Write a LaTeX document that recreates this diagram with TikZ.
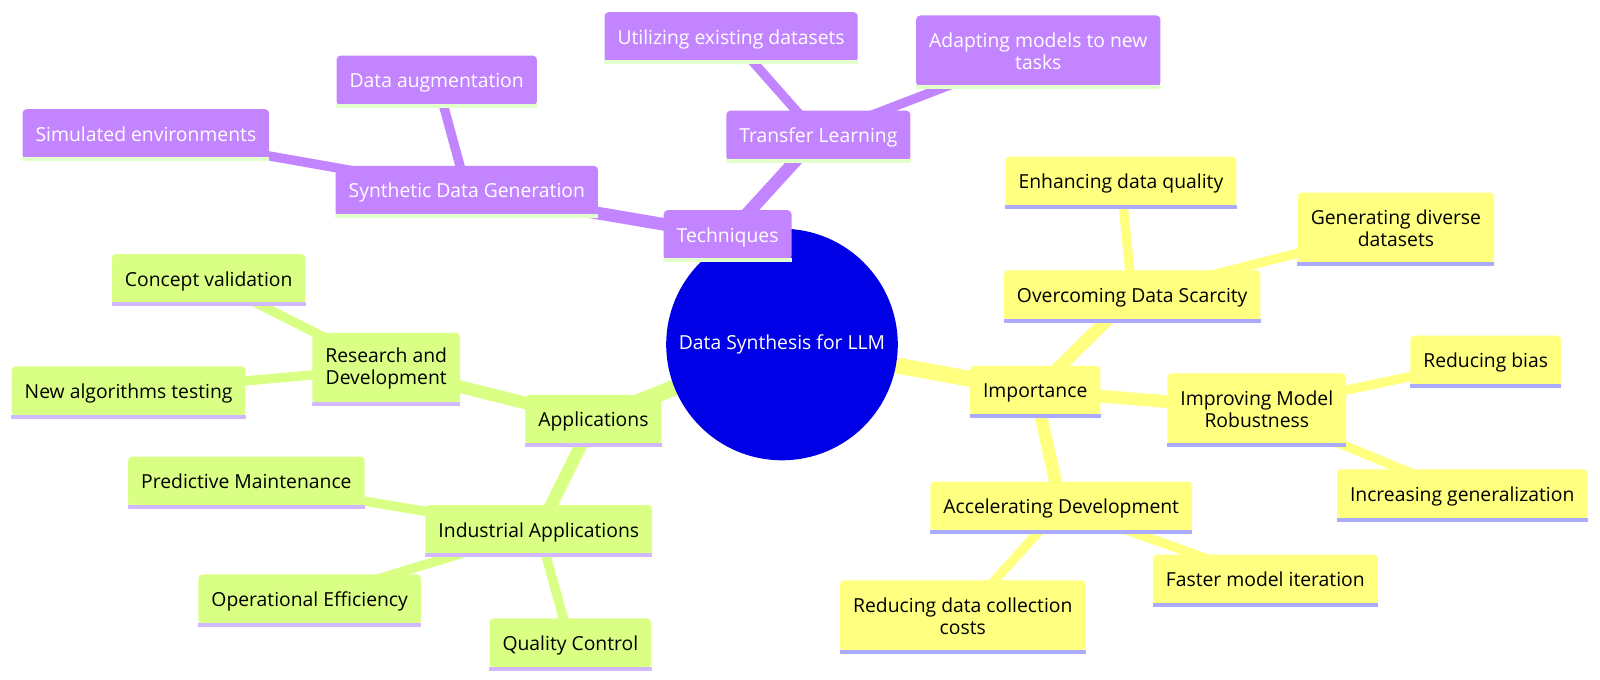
\documentclass[tikz,border=0pt]{standalone}
\usepackage{fontspec}
\setmainfont{Open Sans}
\usetikzlibrary{backgrounds}
\definecolor{rootblue}{HTML}{0000E6}
\definecolor{lilac}{HTML}{C385FF}
\definecolor{lime}{HTML}{D9FF85}
\definecolor{lemon}{HTML}{FFFF80}
\definecolor{lilacline}{HTML}{E2FFCC}
\definecolor{limeline}{HTML}{D2B8FF}
\definecolor{lemonline}{HTML}{AAAAFF}

\begin{document}
\begin{tikzpicture}[x=0.75pt,y=-0.75pt,
  every node/.style={font=\fontsize{14.5}{16.5}\selectfont,align=center},
  mm/.style={rounded corners=3pt,inner xsep=9.75pt,inner ysep=0pt,minimum height=37.5pt,text height=13pt,text depth=2.6pt},
  two/.style={minimum height=53.25pt,text height=,text depth=},
  techbox/.style={mm,fill=lilac,text=white,append after command={(\tikzlastnode.south west) edge[draw=lilacline,line width=3pt] (\tikzlastnode.south east)}},
  appbox/.style={mm,fill=lime,text=black,append after command={(\tikzlastnode.south west) edge[draw=limeline,line width=3pt] (\tikzlastnode.south east)}},
  impbox/.style={mm,fill=lemon,text=black,append after command={(\tikzlastnode.south west) edge[draw=lemonline,line width=3pt] (\tikzlastnode.south east)}},
  lvA/.style={line width=12pt},
  lvB/.style={line width=9.5pt},
  lvC/.style={line width=7pt}]
\useasboundingbox (0,0) rectangle (1600,680);

% centre
\node[circle,fill=rootblue,text=white,minimum size=173.7pt,inner sep=0pt] (root) at (782,344.5) {Data Synthesis for LLM};

% techniques
\node[techbox] (tech) at (727.6,235.2) {Techniques};
\node[techbox] (trans) at (818.4,135.7) {Transfer Learning};
\node[techbox] (util) at (731.1,37.2) {Utilizing existing datasets};
\node[techbox,two] (adapt) at (1038.3,51) {Adapting models to new\\tasks};
\node[techbox] (synth) at (466.8,190.8) {Synthetic Data Generation};
\node[techbox] (augm) at (436.7,80.6) {Data augmentation};
\node[techbox] (simu) at (145.9,134.2) {Simulated environments};

% applications
\node[appbox] (appl) at (593.4,419.9) {Applications};
\node[appbox,two] (rnd) at (386.2,368.4) {Research and\\Development};
\node[appbox] (conc) at (208.7,279.1) {Concept validation};
\node[appbox] (algo) at (128.6,391.3) {New algorithms testing};
\node[appbox] (indu) at (538.8,530.1) {Industrial Applications};
\node[appbox] (pred) at (246.4,481.6) {Predictive Maintenance};
\node[appbox] (oper) at (309.7,599.5) {Operational Efficiency};
\node[appbox] (qual) at (570.4,643.4) {Quality Control};

% importance
\node[impbox] (imp) at (1035.2,390.8) {Importance};
\node[impbox] (scar) at (1132.2,295.4) {Overcoming Data Scarcity};
\node[impbox] (enha) at (1120.9,181.6) {Enhancing data quality};
\node[impbox,two] (gene) at (1395.9,228.1) {Generating diverse\\datasets};
\node[impbox,two] (robu) at (1256.8,409) {Improving Model\\Robustness};
\node[impbox] (bias) at (1485.7,360.7) {Reducing bias};
\node[impbox] (incr) at (1462.2,494.4) {Increasing generalization};
\node[impbox] (acce) at (1061.2,506.6) {Accelerating Development};
\node[impbox] (fast) at (1265.3,579.6) {Faster model iteration};
\node[impbox,two] (cost) at (962.8,615.8) {Reducing data collection\\costs};

\begin{scope}[on background layer]
\draw[lvA,lilac] (root.center) -- (tech.center);
\draw[lvB,lilac] (tech.center) -- (trans.center) (tech.center) -- (synth.center);
\draw[lvC,lilac] (trans.center) -- (util.center) (trans.center) -- (adapt.center);
\draw[lvC,lilac] (synth.center) -- (augm.center) (synth.center) -- (simu.center);
\draw[lvA,lime] (root.center) -- (appl.center);
\draw[lvB,lime] (appl.center) -- (rnd.center) (appl.center) -- (indu.center);
\draw[lvC,lime] (rnd.center) -- (conc.center) (rnd.center) -- (algo.center);
\draw[lvC,lime] (indu.center) -- (pred.center) (indu.center) -- (oper.center) (indu.center) -- (qual.center);
\draw[lvA,lemon] (root.center) -- (imp.center);
\draw[lvB,lemon] (imp.center) -- (scar.center) (imp.center) -- (robu.center) (imp.center) -- (acce.center);
\draw[lvC,lemon] (scar.center) -- (enha.center) (scar.center) -- (gene.center);
\draw[lvC,lemon] (robu.center) -- (bias.center) (robu.center) -- (incr.center);
\draw[lvC,lemon] (acce.center) -- (fast.center) (acce.center) -- (cost.center);
\end{scope}
\end{tikzpicture}
\end{document}
